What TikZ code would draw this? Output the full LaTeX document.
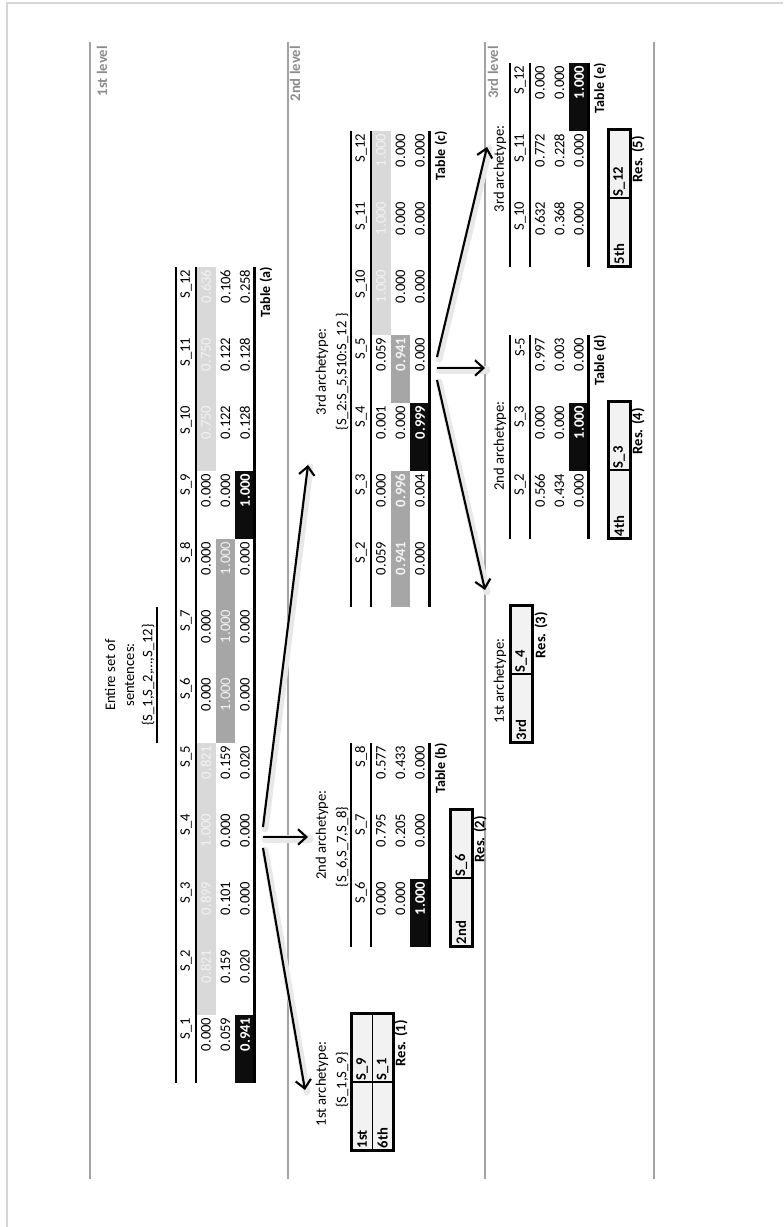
\documentclass[tikz,border=0pt]{standalone}
\usepackage{fontspec}
\setmainfont{Carlito}
\usetikzlibrary{arrows.meta}

\definecolor{lite}{HTML}{D9D9D9}
\definecolor{mid}{HTML}{A6A6A6}
\definecolor{ink}{HTML}{0D0D0D}
\definecolor{paper}{HTML}{F2F2F2}
\definecolor{rim}{HTML}{D6D6D6}
\definecolor{lvl}{HTML}{8C8C8C}

\newcommand\cellfont{\fontsize{10.4}{12}\selectfont}
\newcommand\tabfont{\fontsize{10}{12}\selectfont}

\tikzset{
  tcell/.style={anchor=north west,inner xsep=.075cm,inner ysep=0pt,text width=1.55cm,
    minimum height=.4875cm,align=right,font=\cellfont},
  pc/.style={},
  lc/.style={fill=lite,text=paper},
  mc/.style={fill=mid,text=paper},
  mb/.style={fill=mid,text=paper,font=\cellfont\bfseries},
  kc/.style={fill=ink,text=white,font=\cellfont\bfseries},
  tabrule/.style={line width=1.7pt},
  rescell/.style={anchor=north west,inner xsep=.05cm,inner ysep=0pt,text width=1.6cm,
    minimum height=.5125cm,align=left,fill=paper,draw,line width=1.2pt,font=\cellfont\bfseries},
  resbox/.style={line width=2pt},
  reslab/.style={anchor=east,inner sep=0pt,font=\cellfont\bfseries},
  tablab/.style={anchor=east,inner sep=0pt,font=\tabfont\bfseries},
  headtxt/.style={inner sep=0pt,font=\cellfont},
  lvlab/.style={anchor=east,inner sep=0pt,text=lvl,font=\cellfont\bfseries},
  lvline/.style={draw=lvl!80,line width=.8pt},
  arr/.style={line width=1.5pt,-{Straight Barb[length=6pt,width=11pt]}},
  arrshade/.style={line width=5pt,draw=black!9,line cap=round}
}

% name, left, top rule, right, headers, rows
\newcommand\rtab[6]{%
  \foreach \hd [count=\k from 0] in {#5}{
    \node[tcell] (#1-h\k) at ({#2+68*\k},-#3) {\hd};}
  \foreach \row [count=\r from 0] in {#6}{
    \foreach \st/\val [count=\k from 0] in \row{
      \node[tcell,\st] (#1-\r-\k) at ({#2+68*\k},{-#3-20-19.5*\r}) {\val};}}
  \draw[tabrule] (#2,-#3) -- (#4,-#3) (#2,-#3-20) -- (#4,-#3-20)
    (#2,-#3-78.5) -- (#4,-#3-78.5);
}

\begin{document}
\begin{tikzpicture}[x=0.025cm,y=0.025cm]
\useasboundingbox (0,0) rectangle (783,1227);
\draw[rim,line width=1.5pt] (7,0) -- (7,1224) -- (783,1224);

\begin{scope}[rotate=90,transform shape]
% levels
\foreach \lw in {90,288,485,654}
  \draw[lvline] (48,-\lw) -- (1185,-\lw);
\node[lvlab] (lv1) at (1181,-102) {1st level};
\node[lvlab] (lv2) at (1181,-295) {2nd level};
\node[lvlab] (lv3) at (1181,-493) {3rd level};

% 1st level
\node[headtxt] (sa1) at (552,-110) {Entire set of};
\node[headtxt] (sa2) at (552,-129.5) {sentences:};
\node[headtxt] (sa3) at (552,-148) {\{S\_1,S\_2,…,S\_12\}};
\draw[tabrule] (484,-157) -- (620,-157);
\rtab{ta}{144}{176}{960}{S\_1,S\_2,S\_3,S\_4,S\_5,S\_6,S\_7,S\_8,S\_9,S\_10,S\_11,S\_12}
  {{pc/0.000,lc/0.821,lc/0.899,lc/1.000,lc/0.821,pc/0.000,pc/0.000,pc/0.000,pc/0.000,lc/0.750,lc/0.750,lc/0.636},
   {pc/0.059,pc/0.159,pc/0.101,pc/0.000,pc/0.159,mc/1.000,mc/1.000,mc/1.000,pc/0.000,pc/0.122,pc/0.122,pc/0.106},
   {kc/0.941,pc/0.020,pc/0.000,pc/0.000,pc/0.020,pc/0.000,pc/0.000,pc/0.000,kc/1.000,pc/0.128,pc/0.128,pc/0.258}}
\node[tablab] (ta-lab) at (960,-266) {Table (a)};

% 2nd level
\node[headtxt] (h1a) at (143,-322) {1st archetype:};
\node[headtxt] (h1b) at (147,-342) {\{S\_1,S\_9\}};
\node[headtxt] (h2a) at (392,-322) {2nd archetype:};
\node[headtxt] (h2b) at (380,-342) {\{S\_6,S\_7,S\_8\}};
\node[headtxt] (h3a) at (855,-322) {3rd archetype:};
\node[headtxt] (h3b) at (855,-342) {\{S\_2:S\_5,S10:S\_12 \}};
\rtab{tb}{280}{351}{484}{S\_6,S\_7,S\_8}
  {{pc/0.000,pc/0.795,pc/0.577},{pc/0.000,pc/0.205,pc/0.433},{kc/1.000,pc/0.000,pc/0.000}}
\node[tablab] (tb-lab) at (484,-441) {Table (b)};
\rtab{tc}{620}{351}{1096}{S\_2,S\_3,S\_4,S\_5,S\_10,S\_11,S\_12}
  {{pc/0.059,pc/0.000,pc/0.001,pc/0.059,lc/1.000,lc/1.000,lc/1.000},
   {mb/0.941,mb/0.996,pc/0.000,mb/0.941,pc/0.000,pc/0.000,pc/0.000},
   {pc/0.000,pc/0.004,kc/0.999,pc/0.000,pc/0.000,pc/0.000,pc/0.000}}
\node[tablab] (tc-lab) at (1096,-441) {Table (c)};

% 3rd level
\node[headtxt] (g1) at (546,-500) {1st archetype:};
\node[headtxt] (g2) at (781,-500) {2nd archetype:};
\node[headtxt] (g3) at (1058,-500) {3rd archetype:};
\rtab{td}{688}{510}{892}{S\_2,S\_3,S-5}
  {{pc/0.566,pc/0.000,pc/0.997},{pc/0.434,pc/0.000,pc/0.003},{pc/0.000,kc/1.000,pc/0.000}}
\node[tablab] (td-lab) at (892,-600) {Table (d)};
\rtab{te}{960}{510}{1164}{S\_10,S\_11,S\_12}
  {{pc/0.632,pc/0.772,pc/0.000},{pc/0.368,pc/0.228,pc/0.000},{pc/0.000,pc/0.000,kc/1.000}}
\node[tablab] (te-lab) at (1164,-600) {Table (e)};

% results
\foreach \nm/\ru/\rw/\rk/\sn in {r1a/76/351/1st/S\_9,r1b/76/371.5/6th/S\_1,r2/280/450/2nd/S\_6,
    r3/484/510/3rd/S\_4,r4/688/608/4th/S\_3,r5/960/608/5th/S\_12}{
  \node[rescell] (\nm-l) at (\ru,-\rw) {\rk};
  \node[rescell] (\nm-r) at (\ru+68,-\rw) {\sn};}
\foreach \p/\q in {r1a/r1b,r2/r2,r3/r3,r4/r4,r5/r5}
  \draw[resbox] (\p-l.north west) rectangle (\q-r.south east);
\foreach \nm/\ru/\rw/\t in {res1/207/401/1,res2/411/480/2,res3/615/541/3,res4/819/638/4,res5/1091/638/5}
  \node[reslab] (\nm) at (\ru,-\rw) {Res. (\t)};

% arrows
\coordinate (a-o1) at (379,-263); \coordinate (a-i1) at (137,-305);
\coordinate (a-o2) at (390,-263); \coordinate (a-i2) at (390,-308);
\coordinate (a-o3) at (400,-263); \coordinate (a-i3) at (762,-308);
\coordinate (c-o1) at (847,-437); \coordinate (c-i1) at (637,-485);
\coordinate (c-o2) at (859,-437); \coordinate (c-i2) at (859,-485);
\coordinate (c-o3) at (870,-437); \coordinate (c-i3) at (1080,-487);
\foreach \s/\e in {a-o1/a-i1,a-o2/a-i2,a-o3/a-i3,c-o1/c-i1,c-o2/c-i2,c-o3/c-i3}{
  \draw[arrshade] ([shift={(-2,-2)}]\s) -- ([shift={(-2,-2)}]\e);
  \draw[arr] (\s) -- (\e);}
\end{scope}
\end{tikzpicture}
\end{document}
